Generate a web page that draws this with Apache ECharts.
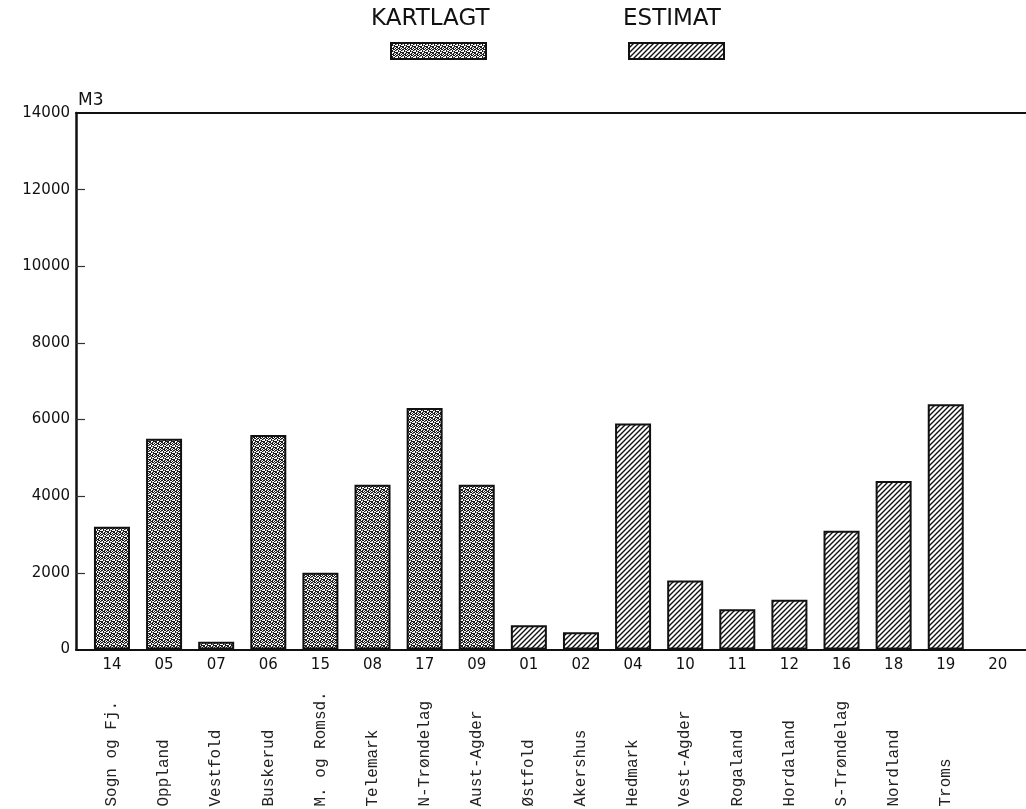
<!DOCTYPE html>
<html>
<head>
<meta charset="utf-8">
<script src="https://cdn.jsdelivr.net/npm/echarts@6/dist/echarts.min.js"></script>
<style>
html,body{margin:0;padding:0;background:#fff;}
#c{width:1026px;height:809px;}
</style>
</head>
<body>
<div id="c"></div>
<script>
// ---- data ----
const codes = ['14','05','07','06','15','08','17','09','01','02','04','10','11','12','16','18','19','20'];
const names = ['Sogn og Fj.','Oppland','Vestfold','Buskerud','M. og Romsd.','Telemark','N-Trøndelag','Aust-Agder','Østfold','Akershus','Hedmark','Vest-Agder','Rogaland','Hordaland','S-Trøndelag','Nordland','Troms',''];
const kartlagt = [3200, 5500, 200, 5600, 2000, 4300, 6300, 4300, null, null, null, null, null, null, null, null, null, null];
const estimat  = [null, null, null, null, null, null, null, null, 630, 450, 5900, 1800, 1050, 1300, 3100, 4400, 6400, null];
const yTicks = [0, 2000, 4000, 6000, 8000, 10000, 12000, 14000];

// ---- texture tiles (styling only) ----
function stipple() {
  const c = document.createElement('canvas');
  c.width = 6; c.height = 6;
  const g = c.getContext('2d');
  g.fillStyle = '#fff'; g.fillRect(0, 0, 6, 6);
  g.fillStyle = '#1a1a1a';
  const px = [[0,0],[2,0],[4,1],[1,2],[3,2],[5,3],[0,4],[2,4],[4,5],[1,5],[3,3],[5,0],[1,1],[3,0],[4,3],[0,3],[2,5],[5,4]];
  px.forEach(p => g.fillRect(p[0], p[1], 1, 1));
  g.fillStyle = '#888';
  [[2,2],[5,1],[0,5],[3,4]].forEach(p => g.fillRect(p[0], p[1], 1, 1));
  return c;
}
function hatch() {
  const s = 5;
  const c = document.createElement('canvas');
  c.width = s; c.height = s;
  const g = c.getContext('2d');
  g.fillStyle = '#fff'; g.fillRect(0, 0, s, s);
  g.strokeStyle = '#111'; g.lineWidth = 1.4;
  g.beginPath();
  g.moveTo(-1, s + 1); g.lineTo(s + 1, -1);
  g.moveTo(-1, 1); g.lineTo(1, -1);
  g.moveTo(s - 1, s + 1); g.lineTo(s + 1, s - 1);
  g.stroke();
  return c;
}

const xMin = -0.69, xMax = 17.54;
const idx = codes.map((c, i) => i);

const chart = echarts.init(document.getElementById('c'));
const xCommon = { type: 'value', min: xMin, max: xMax, splitLine: { show: false }, axisTick: { show: false } };

chart.setOption({
  animation: false,
  backgroundColor: '#fff',
  title: [
    { text: 'KARTLAGT', left: 371, top: 8, padding: 0, textStyle: { fontFamily: 'DejaVu Sans', fontSize: 23, fontWeight: 'normal', color: '#111' } },
    { text: 'ESTIMAT', left: 623, top: 8, padding: 0, textStyle: { fontFamily: 'DejaVu Sans', fontSize: 23, fontWeight: 'normal', color: '#111' } }
  ],
  legend: [
    { data: ['KARTLAGT'], left: 390, top: 42, padding: 0, itemWidth: 95, itemHeight: 16, formatter: () => '', selectedMode: false, icon: 'rect' },
    { data: ['ESTIMAT'], left: 628, top: 42, padding: 0, itemWidth: 95, itemHeight: 16, formatter: () => '', selectedMode: false, icon: 'rect' }
  ],
  grid: { left: 76, right: 0, top: 113, bottom: 159.5, containLabel: false, outerBoundsMode: 'none' },
  xAxis: [
    Object.assign({}, xCommon, {
      position: 'bottom',
      axisLine: { show: true, onZero: false, lineStyle: { color: '#111', width: 2 } },
      axisLabel: {
        customValues: idx,
        formatter: v => codes[Math.round(v)],
        margin: 8,
        fontFamily: 'DejaVu Sans', fontSize: 15, color: '#111'
      }
    }),
    Object.assign({}, xCommon, {
      position: 'bottom',
      offset: 157,
      axisLine: { show: false },
      axisLabel: {
        customValues: idx,
        formatter: v => names[Math.round(v)],
        inside: true,
        margin: 0,
        rotate: 90,
        align: 'left',
        verticalAlign: 'middle',
        fontFamily: 'Liberation Mono', fontSize: 16, color: '#222'
      }
    }),
    Object.assign({}, xCommon, {
      position: 'top',
      axisLine: { show: true, onZero: false, lineStyle: { color: '#111', width: 2 } },
      axisLabel: { show: false }
    })
  ],
  yAxis: {
    type: 'value', min: 0, max: 14000, interval: 2000,
    name: 'M3', nameLocation: 'end', nameGap: 4,
    nameTextStyle: { align: 'left', fontFamily: 'DejaVu Sans', fontSize: 17, color: '#111', padding: [0, 0, 0, 2] },
    axisLine: { show: true, onZero: false, lineStyle: { color: '#111', width: 2.5 } },
    axisTick: { show: true, inside: true, length: 9, lineStyle: { color: '#333', width: 1.2 }, customValues: yTicks.filter(v => v > 0 && v < 14000) },
    axisLabel: { customValues: yTicks, formatter: v => String(v), margin: 6, fontFamily: 'DejaVu Sans', fontSize: 15, color: '#111' },
    splitLine: { show: false }
  },
  series: [
    {
      name: 'KARTLAGT', type: 'bar', xAxisIndex: 0, barWidth: 36, barGap: '-100%',
      data: kartlagt.map((v, i) => [i, v]),
      itemStyle: { color: { image: stipple(), repeat: 'repeat' }, borderColor: '#111', borderWidth: 2 }
    },
    {
      name: 'ESTIMAT', type: 'bar', xAxisIndex: 0, barWidth: 36, barGap: '-100%',
      data: estimat.map((v, i) => [i, v]),
      itemStyle: { color: { image: hatch(), repeat: 'repeat' }, borderColor: '#111', borderWidth: 2 }
    }
  ]
});
</script>
</body>
</html>
